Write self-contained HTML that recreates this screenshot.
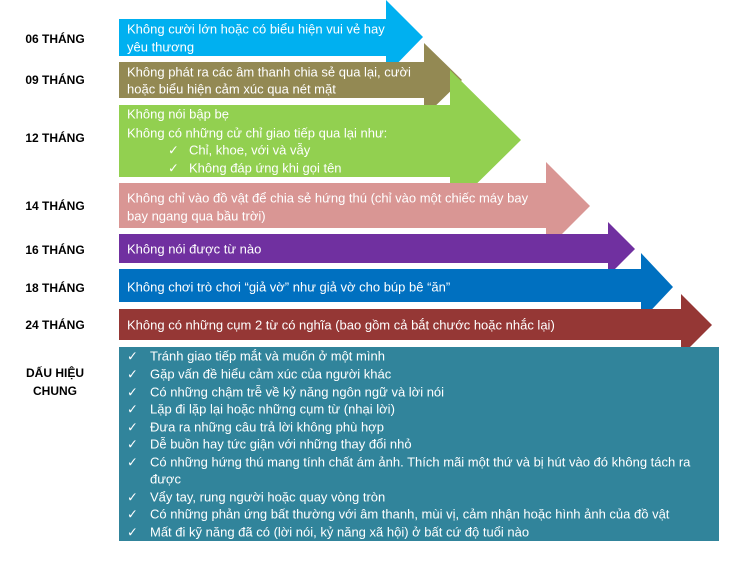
<!DOCTYPE html>
<html><head><meta charset="utf-8"><style>
html,body{margin:0;padding:0;background:#fff;}
svg text{font-family:"Liberation Sans",sans-serif;}
.t{fill:#fff;font-size:13px;dominant-baseline:central;}
.l{fill:#000;font-size:12px;font-weight:bold;dominant-baseline:central;text-anchor:middle;}
</style></head><body>
<svg width="750" height="562" xmlns="http://www.w3.org/2000/svg">
<polygon fill="#00B0F0" points="119,19 386,19 386,0 423,37 386,75 386,56 119,56"/>
<polygon fill="#938953" points="119,62 424,62 424,43 462,80 424,117 424,98 119,98"/>
<polygon fill="#92D050" points="119,105 450,105 450,70 521,140 450,210 450,177 119,177"/>
<polygon fill="#D99694" points="119,183 546,183 546,162 590,206 546,250 546,228 119,228"/>
<polygon fill="#7030A0" points="119,234 608,234 608,222 635,249 608,276 608,263 119,263"/>
<polygon fill="#0070C0" points="119,269 641,269 641,253 673,287 641,321 641,302 119,302"/>
<polygon fill="#953735" points="119,309 681,309 681,294 712,325 681,356 681,340 119,340"/>
<rect fill="#31849B" x="119" y="347" width="600" height="194"/>

<text class="l" x="55" y="39">06 THÁNG</text>
<text class="l" x="55" y="80">09 THÁNG</text>
<text class="l" x="55" y="138">12 THÁNG</text>
<text class="l" x="55" y="206">14 THÁNG</text>
<text class="l" x="55" y="250">16 THÁNG</text>
<text class="l" x="55" y="288">18 THÁNG</text>
<text class="l" x="55" y="325">24 THÁNG</text>
<text class="l" x="55" y="373">DẤU HIỆU</text>
<text class="l" x="55" y="391">CHUNG</text>

<text class="t" x="127" y="29">Không cười lớn hoặc có biểu hiện vui vẻ hay</text>
<text class="t" x="127" y="47">yêu thương</text>
<text class="t" x="127" y="72">Không phát ra các âm thanh chia sẻ qua lại, cười</text>
<text class="t" x="127" y="89">hoặc biểu hiện cảm xúc qua nét mặt</text>
<text class="t" x="127" y="114">Không nói bập bẹ</text>
<text class="t" x="127" y="133">Không có những cử chỉ giao tiếp qua lại như:</text>
<text class="t" x="168" y="150">✓</text><text class="t" x="189" y="150">Chỉ, khoe, với và vẫy</text>
<text class="t" x="168" y="168">✓</text><text class="t" x="189" y="168">Không đáp ứng khi gọi tên</text>
<text class="t" x="127" y="198">Không chỉ vào đồ vật để chia sẻ hứng thú (chỉ vào một chiếc máy bay</text>
<text class="t" x="127" y="216">bay ngang qua bầu trời)</text>
<text class="t" x="127" y="249">Không nói được từ nào</text>
<text class="t" x="127" y="287">Không chơi trò chơi “giả vờ” như giả vờ cho búp bê “ăn”</text>
<text class="t" x="127" y="325">Không có những cụm 2 từ có nghĩa (bao gồm cả bắt chước hoặc nhắc lại)</text>

<text class="t" x="127" y="356">✓</text><text class="t" x="150" y="356">Tránh giao tiếp mắt và muốn ở một mình</text>
<text class="t" x="127" y="374">✓</text><text class="t" x="150" y="374">Gặp vấn đề hiểu cảm xúc của người khác</text>
<text class="t" x="127" y="392">✓</text><text class="t" x="150" y="392">Có những chậm trễ về kỷ năng ngôn ngữ và lời nói</text>
<text class="t" x="127" y="409">✓</text><text class="t" x="150" y="409">Lặp đi lặp lại hoặc những cụm từ (nhại lời)</text>
<text class="t" x="127" y="427">✓</text><text class="t" x="150" y="427">Đưa ra những câu trả lời không phù hợp</text>
<text class="t" x="127" y="444">✓</text><text class="t" x="150" y="444">Dễ buồn hay tức giận với những thay đổi nhỏ</text>
<text class="t" x="127" y="462">✓</text><text class="t" x="150" y="462">Có những hứng thú mang tính chất ám ảnh. Thích mãi một thứ và bị hút vào đó không tách ra</text>
<text class="t" x="150" y="479">được</text>
<text class="t" x="127" y="497">✓</text><text class="t" x="150" y="497">Vẩy tay, rung người hoặc quay vòng tròn</text>
<text class="t" x="127" y="514">✓</text><text class="t" x="150" y="514">Có những phản ứng bất thường với âm thanh, mùi vị, cảm nhận hoặc hình ảnh của đồ vật</text>
<text class="t" x="127" y="532">✓</text><text class="t" x="150" y="532">Mất đi kỹ năng đã có (lời nói, kỷ năng xã hội) ở bất cứ độ tuổi nào</text>
</svg>
</body></html>
